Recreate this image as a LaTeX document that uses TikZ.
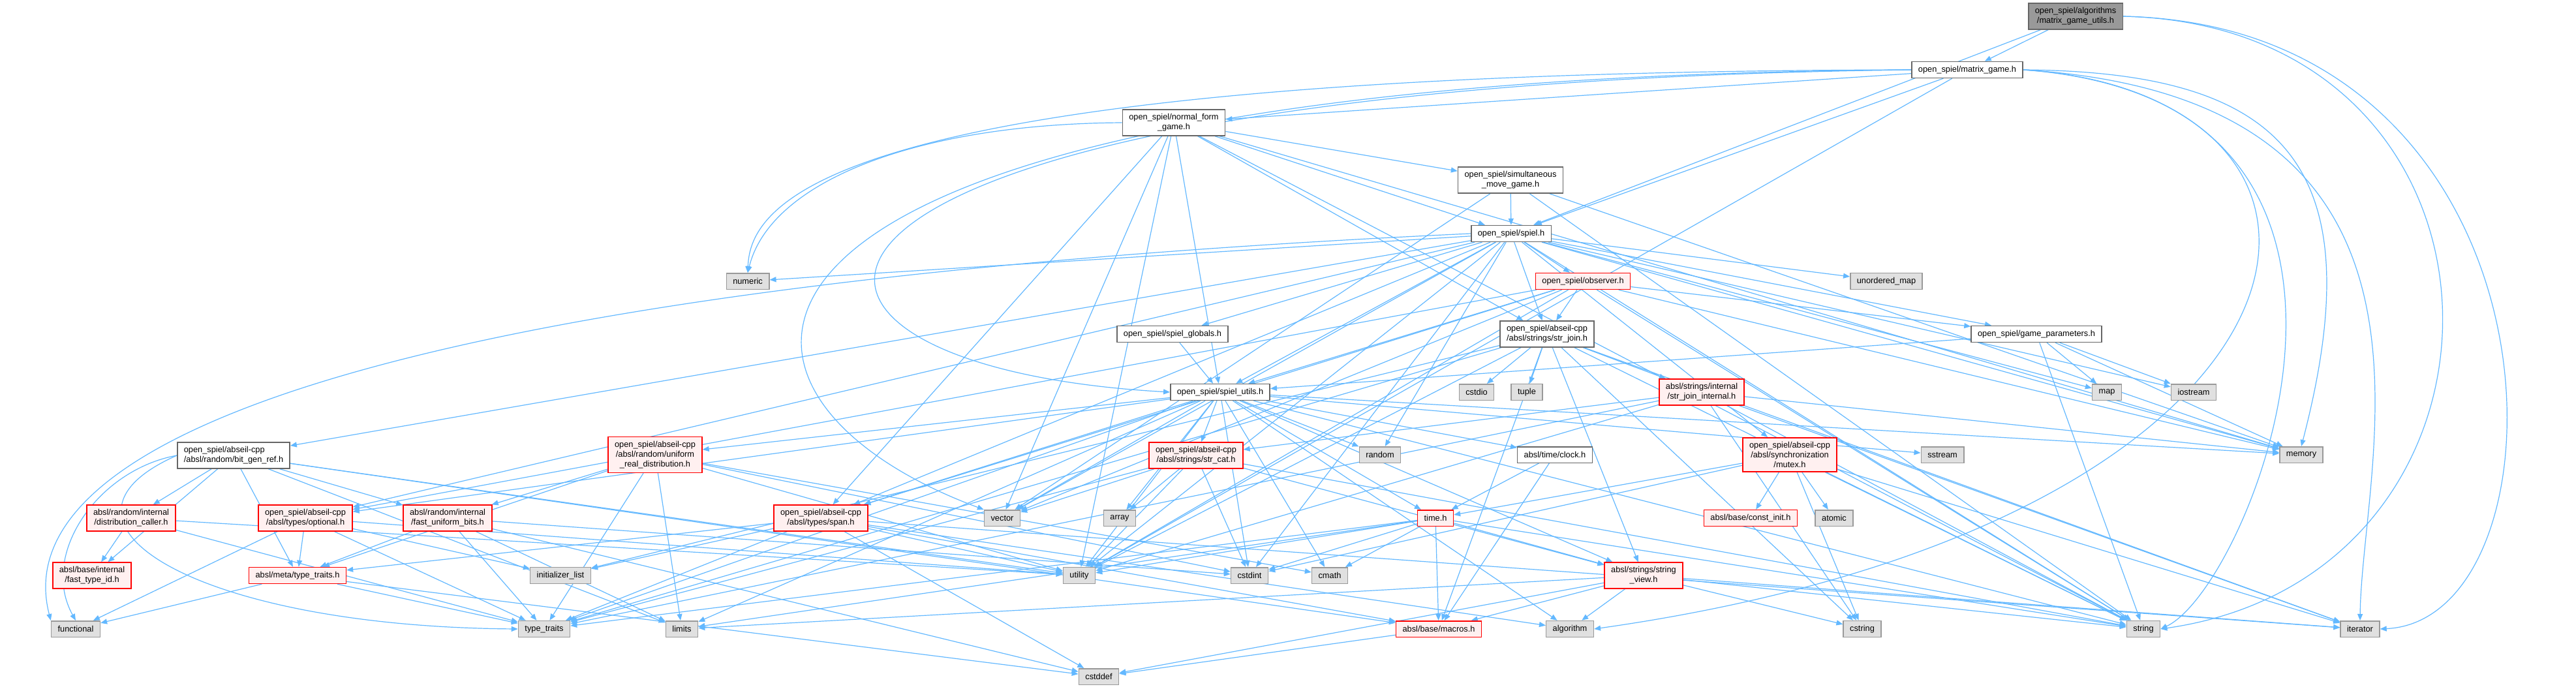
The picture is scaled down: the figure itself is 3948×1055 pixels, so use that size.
\documentclass[tikz,border=0pt]{standalone}
\usepackage{fontspec}
\setmainfont{Liberation Sans}
\usetikzlibrary{arrows.meta}
\definecolor{edgeblue}{HTML}{63B8FF}
\definecolor{boxline}{HTML}{666666}
\definecolor{sysfill}{HTML}{E0E0E0}
\definecolor{sysline}{HTML}{999999}
\definecolor{redfill}{HTML}{FFF0F0}
\definecolor{rootfill}{HTML}{999999}
\pgfdeclarelayer{edges}
\pgfsetlayers{edges,main}

\begin{document}
\begin{tikzpicture}[x=1pt,y=-1pt,
  hdr/.style={draw=boxline,fill=white,line width=1.5pt,inner xsep=10pt,inner ysep=6.5pt,minimum height=24.5pt,align=center,font=\fontsize{12.8}{15}\selectfont},
  redhdr/.style={hdr,draw=red,fill=redfill},
  sys/.style={hdr,draw=sysline,fill=sysfill},
  root/.style={hdr,fill=rootfill},
  dep/.style={edgeblue,line width=1.2pt,-{Triangle[length=10pt,width=8pt]}}]
  \useasboundingbox (0,0) rectangle (3948,1055);

  \node[root] (mgu) at (3181,25) {open\_spiel/algorithms\\/matrix\_game\_utils.h};
  \node[hdr] (mg) at (3015,107) {open\_spiel/matrix\_game.h};
  \node[hdr] (nfg) at (1799,188) {open\_spiel/normal\_form\\\_game.h};
  \node[hdr] (smg) at (2315,276) {open\_spiel/simultaneous\\\_move\_game.h};
  \node[hdr] (spiel) at (2316,358) {open\_spiel/spiel.h};
  \node[sys] (numeric) at (1146,431) {numeric};
  \node[redhdr] (obs) at (2426,431) {open\_spiel/observer.h};
  \node[sys] (umap) at (2891,431) {unordered\_map};
  \node[hdr] (sjoin) at (2371,512) {open\_spiel/abseil-cpp\\/absl/strings/str\_join.h};
  \node[hdr] (globals) at (1797,512) {open\_spiel/spiel\_globals.h};
  \node[hdr] (gparams) at (3121,512) {open\_spiel/game\_parameters.h};
  \node[hdr] (utils) at (1870,601) {open\_spiel/spiel\_utils.h};
  \node[sys] (cstdio) at (2263,601) {cstdio};
  \node[sys] (tuple) at (2340,601) {tuple};
  \node[redhdr] (sjint) at (2608,601) {absl/strings/internal\\/str\_join\_internal.h};
  \node[sys] (map) at (3229,601) {map};
  \node[sys] (iostream) at (3362,601) {iostream};
  \node[hdr,align=left] (bitgen) at (358,698) {open\_spiel/abseil-cpp\\/absl/random/bit\_gen\_ref.h};
  \node[redhdr] (urd) at (1004,697) {open\_spiel/abseil-cpp\\/absl/random/uniform\\\_real\_distribution.h};
  \node[redhdr] (scat) at (1833,698) {open\_spiel/abseil-cpp\\/absl/strings/str\_cat.h};
  \node[sys] (random) at (2115,697) {random};
  \node[hdr] (clock) at (2383,697) {absl/time/clock.h};
  \node[redhdr] (mutex) at (2743,697) {open\_spiel/abseil-cpp\\/absl/synchronization\\/mutex.h};
  \node[sys] (sstream) at (2977,697) {sstream};
  \node[sys] (memory) at (3527,697) {memory};
  \node[redhdr] (distcall) at (201,794) {absl/random/internal\\/distribution\_caller.h};
  \node[redhdr] (optional) at (468,794) {open\_spiel/abseil-cpp\\/absl/types/optional.h};
  \node[redhdr] (fastbits) at (686,794) {absl/random/internal\\/fast\_uniform\_bits.h};
  \node[redhdr] (span) at (1258,794) {open\_spiel/abseil-cpp\\/absl/types/span.h};
  \node[sys] (vector) at (1536,794) {vector};
  \node[sys] (array) at (1716,794) {array};
  \node[redhdr] (timeh) at (2200,794) {time.h};
  \node[redhdr] (constinit) at (2683,794) {absl/base/const\_init.h};
  \node[sys] (atomic) at (2811,794) {atomic};
  \node[redhdr] (typeid) at (141,882) {absl/base/internal\\/fast\_type\_id.h};
  \node[redhdr] (metatt) at (456,882) {absl/meta/type\_traits.h};
  \node[sys] (initlist) at (859,882) {initializer\_list};
  \node[sys] (utility) at (1654,882) {utility};
  \node[sys] (cstdint) at (1915,882) {cstdint};
  \node[sys] (cmath) at (2038,882) {cmath};
  \node[redhdr] (sview) at (2519,882) {absl/strings/string\\\_view.h};
  \node[sys] (functional) at (116,964) {functional};
  \node[sys] (typetr) at (834,964) {type\_traits};
  \node[sys] (limits) at (1045,964) {limits};
  \node[redhdr] (macros) at (2205,964) {absl/base/macros.h};
  \node[sys] (algorithm) at (2406,964) {algorithm};
  \node[sys] (cstring) at (2854,964) {cstring};
  \node[sys] (string) at (3285,964) {string};
  \node[sys] (iterator) at (3617,964) {iterator};
  \node[sys] (cstddef) at (1684,1037) {cstddef};

  \begin{pgfonlayer}{edges}
  \foreach \dst in {mg,spiel} \draw[dep] (mgu) -- (\dst);
  \draw[dep] (mgu.east) .. controls (3890,40) and (3900,880) .. (string.east);
  \draw[dep] (mgu.east) .. controls (3950,40) and (3950,950) .. (iterator.east);

  \foreach \dst in {nfg,spiel,utility} \draw[dep] (mg) -- (\dst);
  \draw[dep] (mg.east) .. controls (3500,110) and (3640,250) .. (memory.north);
  \draw[dep] (mg.east) .. controls (3700,150) and (3600,800) .. (algorithm.east);
  \draw[dep] (mg.east) .. controls (3750,150) and (3450,900) .. (string.east);
  \draw[dep] (mg.east) .. controls (3800,150) and (3620,700) .. (iterator.north);
  \draw[dep] (mg.west) .. controls (1300,110) and (1150,300) .. (numeric.north);
  \draw[dep] (mg.west) .. controls (1000,120) and (1020,600) .. (vector.north west);
  \draw[dep] (mg.west) .. controls (1080,130) and (1060,560) .. (utils.west);

  \foreach \dst in {smg,spiel,sjoin,utils,span,vector,utility,memory,string} \draw[dep] (nfg) -- (\dst);
  \draw[dep] (nfg.west) .. controls (1400,190) and (1180,280) .. (numeric.north);
  \foreach \dst in {spiel,memory,string,vector} \draw[dep] (smg) -- (\dst);

  \foreach \dst in {obs,sjoin,umap,numeric,random,utils,globals,gparams,bitgen,optional,span,mutex,vector,memory,string,iostream,map,cstdint,utility}
    \draw[dep] (spiel) -- (\dst);
  \draw[dep] (spiel.west) .. controls (700,430) and (0,650) .. (functional.north west);

  \foreach \dst in {sjoin,gparams,utils,span,optional,vector,memory,string,utility} \draw[dep] (obs) -- (\dst);
  \draw[dep] (globals) -- (utils);
  \foreach \dst in {utils,map,iostream,memory,string} \draw[dep] (gparams) -- (\dst);
  \foreach \dst in {urd,scat,clock,timeh,optional,span,random,sstream,vector,array,utility,cstdint,cmath,limits,typetr,memory,string,algorithm,sview}
    \draw[dep] (utils) -- (\dst);
  \foreach \dst in {cstdio,tuple,sjint,cstring,initlist,iterator,string,typetr,utility,macros,sview} \draw[dep] (sjoin) -- (\dst);

  \foreach \dst in {distcall,fastbits,typeid,metatt,limits,utility,macros} \draw[dep] (bitgen) -- (\dst);
  \draw[dep] (bitgen.west) .. controls (150,720) and (60,850) .. (functional.north);
  \draw[dep] (bitgen.west) .. controls (40,800) and (300,960) .. (typetr.west);
  \foreach \dst in {typeid,utility,typetr} \draw[dep] (distcall) -- (\dst);
  \foreach \dst in {functional,metatt,typetr,initlist,utility} \draw[dep] (optional) -- (\dst);
  \foreach \dst in {metatt,typetr,cstddef,cstdint,limits} \draw[dep] (fastbits) -- (\dst);
  \foreach \dst in {fastbits,metatt,typetr,limits,cmath,cstdint,utility} \draw[dep] (urd) -- (\dst);
  \foreach \dst in {metatt,typetr,initlist,utility,cstddef,algorithm,iterator,macros} \draw[dep] (span) -- (\dst);
  \foreach \dst in {functional,typetr,cstddef} \draw[dep] (metatt) -- (\dst);
  \foreach \dst in {vector,array,utility,cstdint,string,typetr,sview} \draw[dep] (scat) -- (\dst);
  \foreach \dst in {scat,cstring,iterator,memory,string,typetr,utility} \draw[dep] (sjint) -- (\dst);
  \foreach \dst in {constinit,atomic,timeh,cstdint,cstring,iterator,string} \draw[dep] (mutex) -- (\dst);
  \foreach \dst in {timeh,macros} \draw[dep] (clock) -- (\dst);
  \foreach \dst in {cmath,cstdint,utility,limits,typetr,macros,sview,string} \draw[dep] (timeh) -- (\dst);
  \foreach \dst in {algorithm,cstddef,cstring,iterator,limits,string,macros} \draw[dep] (sview) -- (\dst);
  \draw[dep] (macros) -- (cstddef);
  \end{pgfonlayer}
\end{tikzpicture}
\end{document}
